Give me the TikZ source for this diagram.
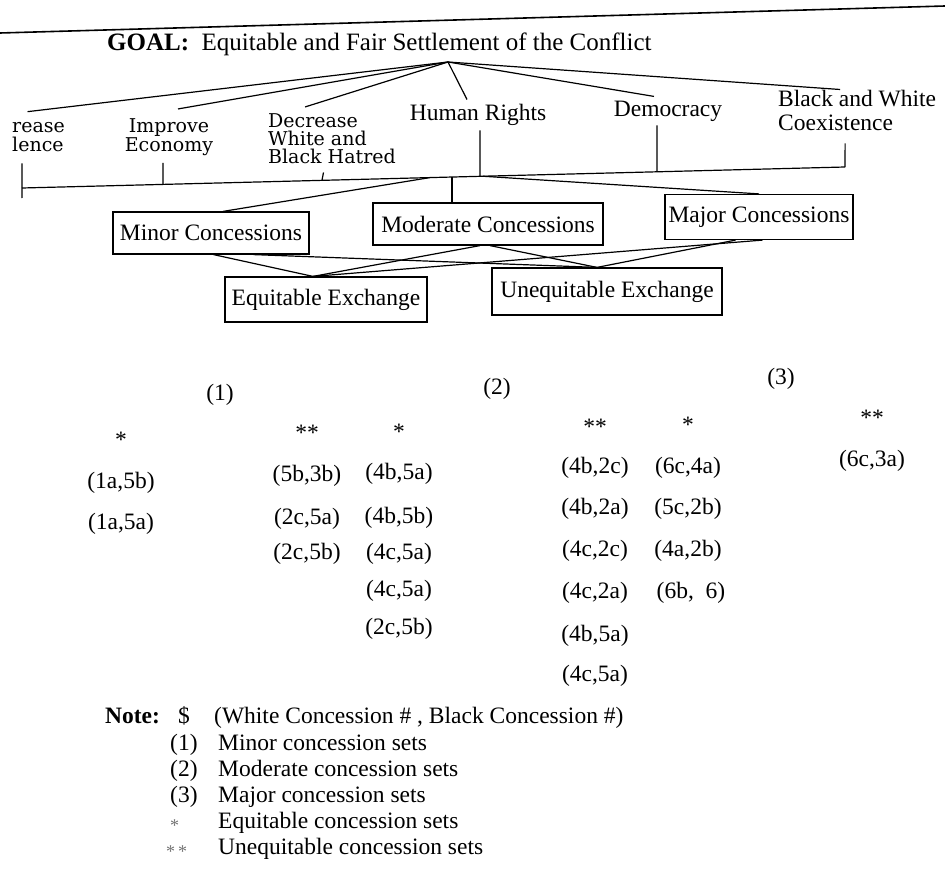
\documentclass[tikz,border=0pt]{standalone}
\usepackage{fontspec}
\setmainfont{Liberation Serif}
\newfontfamily\labfont{DejaVu Serif}
\usetikzlibrary{calc}
\begin{document}
\begin{tikzpicture}[x=1pt,y=-1pt,
  txt/.style={inner sep=0pt,anchor=base,font=\fontsize{23.5}{26}\selectfont},
  txtw/.style={txt,anchor=base west},
  lab/.style={inner sep=0pt,anchor=base,font=\labfont\fontsize{19}{20}\selectfont},
  labw/.style={lab,anchor=base west},
  box/.style={draw,line width=1.2pt,inner sep=0pt,font=\fontsize{23.5}{26}\selectfont},
  conn/.style={line width=1.2pt},
  star/.style={inner sep=0pt,anchor=base,font=\fontsize{23.5}{26}\selectfont},
  legstar/.style={inner sep=0pt,anchor=base west,text=black!55,font=\fontsize{18}{20}\selectfont}]
\useasboundingbox (0,0) rectangle (945,880);
\fill[white] (0,0) rectangle (945,880);

% top rule
\coordinate (ruleL) at (0,33);
\coordinate (ruleR) at (945,6);
\draw[line width=1.6pt] (ruleL) -- (ruleR);

% goal
\node[txtw,font=\fontsize{25}{28}\selectfont] (goal) at (107,51) {\textbf{GOAL:}\ \ Equitable and Fair Settlement of the Conflict};
\coordinate (apex) at (448,62);

% second level labels
\node[labw] (rease) at (12,133) {rease};
\node[labw] (lence) at (12,152) {lence};
\node[lab] (imp) at (169,132) {Improve};
\node[lab] (econ) at (169,151) {Economy};
\node[labw] (dec1) at (268,128) {Decrease};
\node[labw] (dec2) at (268,146) {White and};
\node[labw] (dec3) at (268,164) {Black Hatred};
\node[txt] (hum) at (478,121) {Human Rights};
\node[txt] (dem) at (668,117) {Democracy};
\node[txtw] (bw1) at (778,107) {Black and White};
\node[txtw] (bw2) at (778,131) {Coexistence};

% fan from goal
\draw[conn] (apex) -- ($(rease.north)+(-11,-11)$);
\draw[conn] (apex) -- ($(imp.north)+(9,-9)$);
\draw[conn] (apex) -- ($(dec1.north)+(-8,-7)$);
\draw[conn] (apex) -- ($(hum.north)+(-11,-5)$);
\draw[conn] (apex) -- ($(dem.north)+(-14,-5)$);
\draw[conn] (apex) -- ($(bw1.north)+(-17,-1)$);

% bar
\coordinate (barL) at (22,188);
\coordinate (barR) at (845,167);
\draw[conn] (barL) -- (barR);
\draw[conn] ($(lence.south)+(-16,11)$) -- ($(barL)+(0,10)$);
\draw[conn] ($(econ.south)+(-6,7.5)$) -- ($(barL)!0.1713!(barR)$);
\draw[conn] ($(dec3.south)+(-8.5,8)$) -- ($(barL)!0.3645!(barR)$);
\draw[conn] ($(hum.south)+(2,4)$) -- ($(barL)!0.5565!(barR)$);
\draw[conn] ($(dem.south)+(-11,3)$) -- ($(barL)!0.7716!(barR)$);
\draw[conn] ($(bw2.south)+(9.5,12)$) -- (barR);

% concession boxes
\node[box,minimum width=196,minimum height=42] (minor) at (211,233) {Minor Concessions};
\node[box,minimum width=230,minimum height=42] (moderate) at (488,224) {Moderate Concessions};
\node[box,minimum width=188,minimum height=45] (major) at (759,217) {Major Concessions};

\coordinate (bm) at ($(barL)!0.5225!(barR)$);
\draw[conn] ($(barL)!0.4957!(barR)$) -- ([xshift=12]minor.north);
\draw[conn] (bm) -- (bm |- moderate.north);
\draw[conn] ($(barL)!0.5601!(barR)$) -- (major.north);

% exchange boxes
\node[box,minimum width=202,minimum height=45] (equ) at (326,299.5) {Equitable Exchange};
\node[box,minimum width=230,minimum height=47] (uneq) at (607,291.5) {Unequitable Exchange};
\coordinate (ea) at ([xshift=-13]equ.north);
\coordinate (ua) at ([xshift=-10]uneq.north);

\draw[conn] ([xshift=2.5]minor.south) -- (ea);
\draw[conn] ([xshift=42.5]minor.south) -- (ua);
\draw[conn] ([xshift=-8]moderate.south) -- (ea);
\draw[conn] ([xshift=2]moderate.south) -- (ua);
\draw[conn] ([xshift=3.5]major.south) -- (ea);
\draw[conn] ([xshift=-23.5]major.south) -- (ua);

% group labels
\node[txt] (g1) at (220,400) {(1)};
\node[txt] (g2) at (497,394) {(2)};
\node[txt] (g3) at (781,384) {(3)};

% column 1
\node[star] (c1h) at (121,447) {*};
\node[txt] (c1a) at (121,488) {(1a,5b)};
\node[txt] (c1b) at (121,529) {(1a,5a)};
% column 2
\node[star] (c2h) at (307,440) {**};
\node[txt] (c2a) at (307,481) {(5b,3b)};
\node[txt] (c2b) at (307,524) {(2c,5a)};
\node[txt] (c2c) at (307,559) {(2c,5b)};
% column 3
\node[star] (c3h) at (399,439) {*};
\node[txt] (c3a) at (399,479) {(4b,5a)};
\node[txt] (c3b) at (399,523) {(4b,5b)};
\node[txt] (c3c) at (399,559) {(4c,5a)};
\node[txt] (c3d) at (399,596) {(4c,5a)};
\node[txt] (c3e) at (399,634) {(2c,5b)};
% column 4
\node[star] (c4h) at (595,434) {**};
\node[txt] (c4a) at (595,473) {(4b,2c)};
\node[txt] (c4b) at (595,514) {(4b,2a)};
\node[txt] (c4c) at (595,556) {(4c,2c)};
\node[txt] (c4d) at (595,598) {(4c,2a)};
\node[txt] (c4e) at (595,641) {(4b,5a)};
\node[txt] (c4f) at (595,681) {(4c,5a)};
% column 5
\node[star] (c5h) at (688,432) {*};
\node[txt] (c5a) at (688,473) {(6c,4a)};
\node[txt] (c5b) at (688,514) {(5c,2b)};
\node[txt] (c5c) at (688,556) {(4a,2b)};
\node[txt] (c5d) at (691,598) {(6b,\ \ 6)};
% column 6
\node[star] (c6h) at (872,425) {**};
\node[txt] (c6a) at (872,466) {(6c,3a)};

% legend
\node[txtw] (note) at (105,723) {\textbf{Note:}};
\node[txt] (dollar) at (184,723) {\$};
\node[txtw] (notet) at (214,723) {(White Concession \# , Black Concession \#)};
\node[txtw] (l1) at (170,750) {(1)};
\node[txtw] (l1t) at (218,750) {Minor concession sets};
\node[txtw] (l2) at (170,776) {(2)};
\node[txtw] (l2t) at (218,776) {Moderate concession sets};
\node[txtw] (l3) at (170,802) {(3)};
\node[txtw] (l3t) at (218,802) {Major concession sets};
\node[legstar] (l4) at (170,831) {*};
\node[txtw] (l4t) at (218,828) {Equitable concession sets};
\node[legstar] (l5) at (166,857) {*\,*};
\node[txtw] (l5t) at (218,854) {Unequitable concession sets};
\end{tikzpicture}
\end{document}
